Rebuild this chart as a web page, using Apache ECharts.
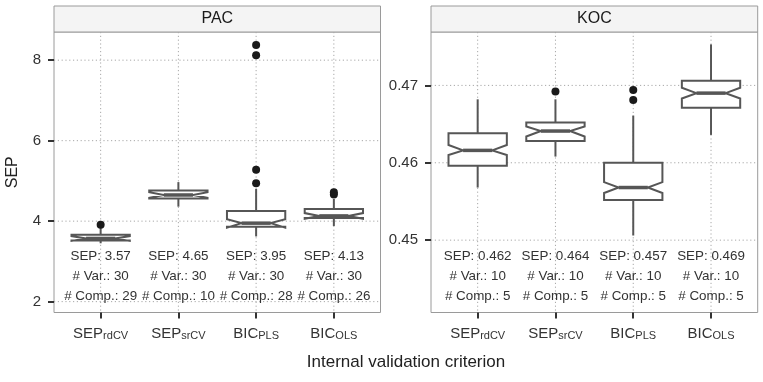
<!DOCTYPE html>
<html><head><meta charset="utf-8">
<script src="https://cdn.jsdelivr.net/npm/echarts@6/dist/echarts.min.js"></script>
<style>html,body{margin:0;padding:0;background:#fff}#c{width:763px;height:382px}</style>
</head><body><div id="c"></div>
<script>
const catMain = ['SEP', 'SEP', 'BIC', 'BIC'];
const catSub = ['rdCV', 'srCV', 'PLS', 'OLS'];
const panels = ['PAC', 'KOC'];
const xTicks = [1, 2, 3, 4];
// [low whisker, Q1, notch low, median, notch high, Q3, high whisker]
const pacStats = [
  [3.45, 3.52, 3.51, 3.57, 3.63, 3.66, 3.84],
  [4.36, 4.56, 4.58, 4.65, 4.72, 4.76, 4.97],
  [3.62, 3.86, 3.84, 3.95, 4.05, 4.25, 4.80],
  [3.88, 4.08, 4.06, 4.13, 4.20, 4.30, 4.55]
];
const kocStats = [
  [0.4568, 0.4596, 0.4610, 0.4616, 0.4623, 0.4638, 0.4682],
  [0.4608, 0.4628, 0.4634, 0.4641, 0.4647, 0.4652, 0.4682],
  [0.4506, 0.4552, 0.4561, 0.4568, 0.4575, 0.4600, 0.4661],
  [0.4636, 0.4671, 0.4683, 0.4690, 0.4697, 0.4706, 0.4753]
];
const pacOutliers = [[1, 3.91], [3, 4.94], [3, 5.28], [3, 8.12], [3, 8.38], [4, 4.66], [4, 4.72]];
const kocOutliers = [[2, 0.4692], [3, 0.4681], [3, 0.4694]];
const pacSEP = ['3.57', '4.65', '3.95', '4.13'];
const pacVar = ['30', '30', '30', '30'];
const pacComp = ['29', '10', '28', '26'];
const kocSEP = ['0.462', '0.464', '0.457', '0.469'];
const kocVar = ['10', '10', '10', '10'];
const kocComp = ['5', '5', '5', '5'];
const pacTicks = [2, 4, 6, 8];
const kocTicks = [0.45, 0.46, 0.47];

const FONT = 'Liberation Sans, Arial, Helvetica, sans-serif';
const BOXCOL = '#565656';
const GRIDCOL = '#a8a8a8';

function boxRender(params, api) {
  const x = api.value(0);
  const lo = api.value(1), q1 = api.value(2), nl = api.value(3), md = api.value(4),
        nh = api.value(5), q3 = api.value(6), hi = api.value(7);
  const hw = 0.375;
  const L = api.coord([x - hw, md])[0], R = api.coord([x + hw, md])[0], C = api.coord([x, md])[0];
  const ind = (R - L) * 0.25;
  const Y = v => api.coord([x, v])[1];
  const pts = [[L, Y(q3)], [L, Y(nh)], [L + ind, Y(md)], [L, Y(nl)], [L, Y(q1)],
               [R, Y(q1)], [R, Y(nl)], [R - ind, Y(md)], [R, Y(nh)], [R, Y(q3)]];
  const ls = { stroke: BOXCOL, lineWidth: 2 };
  return { type: 'group', children: [
    { type: 'line', shape: { x1: C, y1: Y(q3), x2: C, y2: Y(hi) }, style: ls },
    { type: 'line', shape: { x1: C, y1: Y(q1), x2: C, y2: Y(lo) }, style: ls },
    { type: 'polygon', shape: { points: pts }, style: { fill: '#fff', stroke: BOXCOL, lineWidth: 2, lineJoin: 'miter' } },
    { type: 'line', shape: { x1: L + ind, y1: Y(md), x2: R - ind, y2: Y(md) }, style: { stroke: BOXCOL, lineWidth: 3.5 } }
  ]};
}
function vGridRender(params, api) {
  const cs = params.coordSys;
  const x = api.coord([api.value(0), api.value(1)])[0];
  return { type: 'line', shape: { x1: x, y1: cs.y, x2: x, y2: cs.y + cs.height },
    style: { stroke: GRIDCOL, lineWidth: 1, lineDash: [1.2, 2.6] } };
}
function hGridRender(params, api) {
  const cs = params.coordSys;
  const y = api.coord([api.value(0), api.value(1)])[1];
  return { type: 'line', shape: { x1: cs.x, y1: y, x2: cs.x + cs.width, y2: y },
    style: { stroke: GRIDCOL, lineWidth: 1, lineDash: [1.2, 2.6] } };
}
function makeTextRender(sep, vars, comp) {
  return function (params, api) {
    const cs = params.coordSys;
    const x = api.coord([api.value(0), api.value(1)])[0];
    const b = cs.y + cs.height;
    const i = params.dataIndex;
    const lines = ['SEP: ' + sep[i], '# Var.: ' + vars[i], '# Comp.: ' + comp[i]];
    return { type: 'group', children: lines.map((t, k) => ({
      type: 'text', style: { text: t, x: x, y: b - 55.8 + 20 * k, align: 'center', verticalAlign: 'middle',
        fontSize: 13.4, fontFamily: FONT, fill: '#333' } })) };
  };
}

const grids = [
  { left: 54, top: 32, width: 326.5, height: 280.5 },
  { left: 431, top: 32, width: 326.7, height: 280.5 }
].map(g => Object.assign(g, { show: true, borderColor: '#9a9a9a', borderWidth: 1, backgroundColor: '#fff' }));

const xAxes = [0, 1].map(i => ({
  type: 'value', gridIndex: i, min: 0.4, max: 4.6,
  axisLine: { show: false }, splitLine: { show: false },
  axisTick: { show: true, customValues: xTicks, length: 6, lineStyle: { color: '#333', width: 2 } },
  axisLabel: { customValues: xTicks, margin: 13,
    formatter: v => '{m|' + catMain[Math.round(v) - 1] + '}{s|' + catSub[Math.round(v) - 1] + '}',
    rich: {
      m: { fontSize: 15, lineHeight: 16, fontFamily: FONT, color: '#333' },
      s: { fontSize: 11, lineHeight: 6, verticalAlign: 'bottom', fontFamily: FONT, color: '#333' }
    } }
}));
const yAxes = [
  { type: 'value', gridIndex: 0, min: 1.73, max: 8.7,
    name: 'SEP', nameLocation: 'middle', nameGap: 33,
    nameTextStyle: { fontSize: 16, fontFamily: FONT, color: '#222' },
    axisLabel: { customValues: pacTicks, margin: 13, fontSize: 15, fontFamily: FONT, color: '#333', formatter: v => String(v) },
    axisTick: { show: true, customValues: pacTicks, length: 6, lineStyle: { color: '#333', width: 2 } } },
  { type: 'value', gridIndex: 1, min: 0.44065, max: 0.4769,
    axisLabel: { customValues: kocTicks, margin: 13, fontSize: 15, fontFamily: FONT, color: '#333', formatter: v => v.toFixed(2) },
    axisTick: { show: true, customValues: kocTicks, length: 6, lineStyle: { color: '#333', width: 2 } } }
].map(a => Object.assign(a, { axisLine: { show: false }, splitLine: { show: false } }));

const series = [];
[[pacStats, pacOutliers, pacTicks, pacSEP, pacVar, pacComp], [kocStats, kocOutliers, kocTicks, kocSEP, kocVar, kocComp]]
.forEach(([stats, outl, ticks, sep, vars, comp], i) => {
  series.push({ type: 'custom', xAxisIndex: i, yAxisIndex: i, z: 1, silent: true,
    renderItem: vGridRender, encode: { x: 0, y: 1 }, data: xTicks.map(x => [x, ticks[0]]) });
  series.push({ type: 'custom', xAxisIndex: i, yAxisIndex: i, z: 1, silent: true,
    renderItem: hGridRender, encode: { x: 0, y: 1 }, data: ticks.map(t => [1, t]) });
  series.push({ type: 'custom', xAxisIndex: i, yAxisIndex: i, z: 3, silent: true,
    renderItem: boxRender, encode: { x: 0, y: [1, 2, 3, 4, 5, 6, 7] },
    data: stats.map((s, k) => [xTicks[k]].concat(s)) });
  series.push({ type: 'scatter', xAxisIndex: i, yAxisIndex: i, z: 4, silent: true,
    symbolSize: 8, itemStyle: { color: '#1a1a1a', opacity: 1 }, data: outl });
  series.push({ type: 'custom', xAxisIndex: i, yAxisIndex: i, z: 5, silent: true,
    renderItem: makeTextRender(sep, vars, comp), encode: { x: 0, y: 1 }, data: xTicks.map(x => [x, ticks[0]]) });
});

const graphic = [];
grids.forEach((g, i) => {
  graphic.push({ type: 'rect', shape: { x: g.left, y: 6, width: g.width, height: 26 },
    style: { fill: '#f4f4f4', stroke: '#9a9a9a', lineWidth: 1 } });
  graphic.push({ type: 'text', style: { text: panels[i], x: g.left + g.width / 2, y: 19, align: 'center', verticalAlign: 'middle',
    fontSize: 16, fontFamily: FONT, fill: '#1a1a1a' } });
});
graphic.push({ type: 'text', style: { text: 'Internal validation criterion', x: 406, y: 362, align: 'center', verticalAlign: 'middle',
  fontSize: 17, fontFamily: FONT, fill: '#222' } });

const chart = echarts.init(document.getElementById('c'), null, { renderer: 'canvas' });
chart.setOption({ animation: false, backgroundColor: '#fff', grid: grids, xAxis: xAxes, yAxis: yAxes, series, graphic });
</script></body></html>
